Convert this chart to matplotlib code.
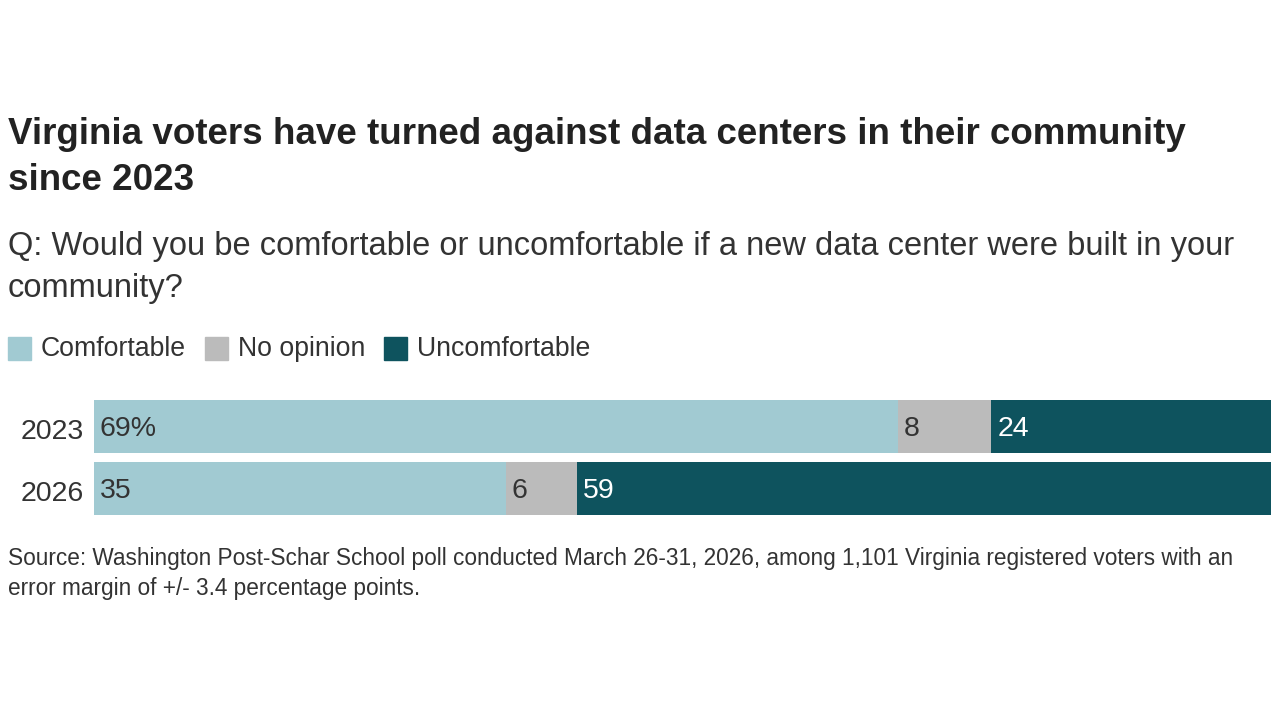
import matplotlib.pyplot as plt
import matplotlib.patches as mpatches
import numpy as np

years = ['2023', '2026']
comfortable = [69, 35]
no_opinion = [8, 6]
uncomfortable = [24, 59]
series_names = ['Comfortable', 'No opinion', 'Uncomfortable']
colors = ['#a1cad2', '#bbbbbb', '#0e535e']
text_colors = ['#333333', '#333333', '#ffffff']

plt.rcParams['font.family'] = ['Liberation Sans', 'DejaVu Sans']

W, H = 1280, 720
fig = plt.figure(figsize=(12.8, 7.2), dpi=100)
ax = fig.add_axes([94/W, 1-519.5/H, (1271-94)/W, 124/H])

data = np.array([comfortable, no_opinion, uncomfortable], dtype=float)
shares = data / data.sum(axis=0) * 100
y = np.arange(len(years))
left = np.zeros(len(years))
for i in range(3):
    ax.barh(y, shares[i], left=left, height=0.86, color=colors[i], linewidth=0)
    for j in range(len(years)):
        lab = str(int(data[i, j]))
        if i == 0 and j == 0:
            lab += '%'
        ax.text(left[j] + 0.5, y[j] + 0.04, lab, va='center', ha='left',
                fontsize=20.5, color=text_colors[i])
    left += shares[i]

ax.set_xlim(0, 100)
ax.set_ylim(1.5, -0.5)
ax.set_yticks(y + 0.04)
ax.set_yticklabels(years, fontsize=20.5, color='#333333')
ax.tick_params(axis='y', length=0, pad=7)
ax.set_xticks([])
for s in ax.spines.values():
    s.set_visible(False)

# title / subtitle lines
fig.text(8/W, 1-135/H, 'Virginia voters have turned against data centers in their community',
         fontsize=26.5, fontweight='bold', color='#222222', va='center', ha='left')
fig.text(8/W, 1-181/H, 'since 2023',
         fontsize=26.5, fontweight='bold', color='#222222', va='center', ha='left')
fig.text(8/W, 1-247/H, 'Q: Would you be comfortable or uncomfortable if a new data center were built in your',
         fontsize=23.5, color='#333333', va='center', ha='left')
fig.text(8/W, 1-288/H, 'community?',
         fontsize=23.5, color='#333333', va='center', ha='left')

# legend
legend_x = [8, 205, 384]
for lx, c, n in zip(legend_x, colors, series_names):
    fig.patches.append(mpatches.Rectangle((lx/W, 1-360/H), 23/W, 23/H, color=c,
                                          transform=fig.transFigure, figure=fig))
    fig.text((lx + 33)/W, 1-349/H, n, fontsize=19.2, color='#333333', va='center', ha='left')

fig.text(8/W, 1-559/H, 'Source: Washington Post-Schar School poll conducted March 26-31, 2026, among 1,101 Virginia registered voters with an',
         fontsize=16.3, color='#333333', va='center', ha='left')
fig.text(8/W, 1-589/H, 'error margin of +/- 3.4 percentage points.',
         fontsize=16.3, color='#333333', va='center', ha='left')

fig.savefig('out.png', dpi=100, facecolor='white')
